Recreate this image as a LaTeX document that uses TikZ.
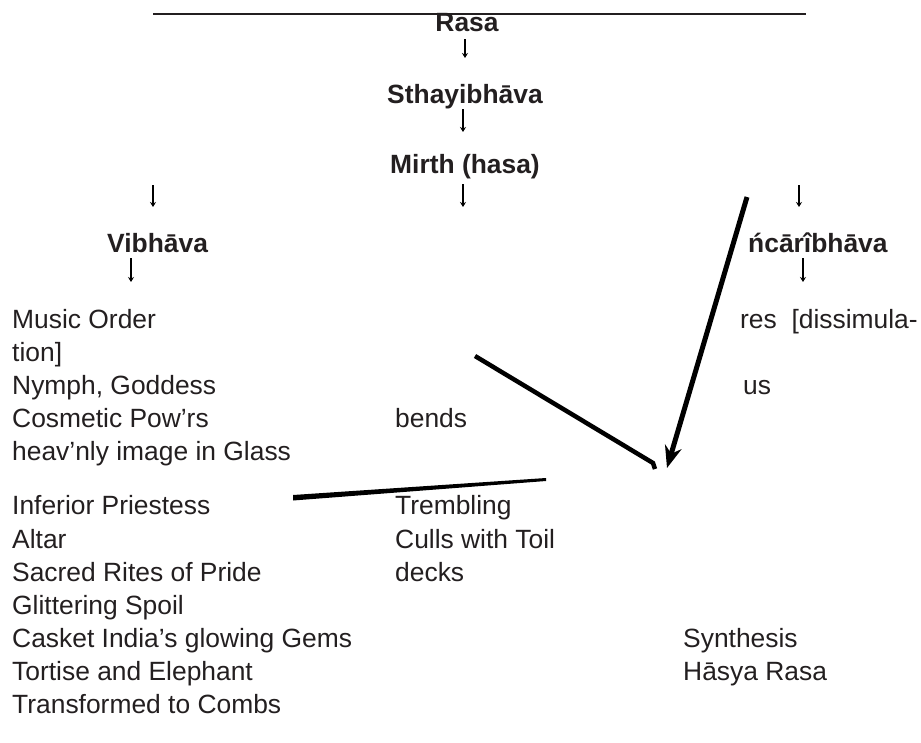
\documentclass[tikz,border=0pt]{standalone}
\usepackage{fontspec}
\setmainfont{Liberation Sans}
\usetikzlibrary{arrows.meta}
\definecolor{ink}{HTML}{231F20}
\tikzset{
  txt/.style={inner sep=0pt, anchor=base west, text=ink, font=\fontsize{26.4}{30}\selectfont},
  ttl/.style={inner sep=0pt, anchor=base, text=ink, font=\fontsize{26.4}{30}\selectfont\bfseries},
  ttlw/.style={ttl, anchor=base west},
  arr/.style={draw=black, line width=1.6pt, -{Stealth[length=5pt,width=6pt]}},
  stroke/.style={draw=black, line width=5pt},
}
\begin{document}
\begin{tikzpicture}[x=1pt,y=-1pt]
\useasboundingbox (0,0) rectangle (921,742);
% titles
\node[ttl] (rasa) at (467,31) {Rasa};
\node[ttl] (sthayi) at (465,103) {Sthayibhāva};
\node[ttl] (mirth) at (465,173) {Mirth (hasa)};
\node[ttlw] (vib) at (107,252) {Vibhāva};
\node[ttlw] (sanc) at (748,252) {ńcārîbhāva};
\draw[ink, line width=1.3pt] (153,14) -- (806,14);
% left column
\node[txt] (l1) at (12,328) {Music Order};
\node[txt] (l2) at (12,361) {tion]};
\node[txt] (l3) at (12,394) {Nymph, Goddess};
\node[txt] (l4) at (12,427) {Cosmetic Pow’rs};
\node[txt] (l5) at (12,460) {heav’nly image in Glass};
\node[txt] (l6) at (12,514) {Inferior Priestess};
\node[txt] (l7) at (12,548) {Altar};
\node[txt] (l8) at (12,581) {Sacred Rites of Pride};
\node[txt] (l9) at (12,614) {Glittering Spoil};
\node[txt] (l10) at (12,647) {Casket India’s glowing Gems};
\node[txt] (l11) at (12,680) {Tortise and Elephant};
\node[txt] (l12) at (12,713) {Transformed to Combs};
% middle column
\node[txt] (m1) at (395,427) {bends};
\node[txt] (m2) at (395,514) {Trembling};
\node[txt] (m3) at (395,548) {Culls with Toil};
\node[txt] (m4) at (395,581) {decks};
% right column
\node[txt] (r1) at (740,328) {res\ \ [dissimula-};
\node[txt] (r2) at (743,394) {us};
\node[txt] (r3) at (683,647) {Synthesis};
\node[txt] (r4) at (683,680) {Hāsya Rasa};
% small arrows
\coordinate (anu) at (463,207);
\draw[arr] ([xshift=-2pt,yshift=-8pt]rasa.base) -- ([yshift=45pt]sthayi.base);
\draw[arr] ([xshift=-2pt,yshift=-6pt]sthayi.base) -- ([xshift=-2pt,yshift=41pt]mirth.base);
\draw[arr] ([xshift=-312pt,yshift=-12pt]mirth.base) -- ([xshift=46pt,yshift=45pt]vib.base west);
\draw[arr] ([xshift=-2pt,yshift=-11pt]mirth.base) -- (anu);
\draw[arr] ([xshift=334pt,yshift=-12pt]mirth.base) -- ([xshift=51pt,yshift=45pt]sanc.base west);
\draw[arr] ([xshift=24pt,yshift=-6pt]vib.base west) -- ([xshift=119pt,yshift=46pt]l1.base west);
\draw[arr] ([xshift=55pt,yshift=-6pt]sanc.base west) -- ([xshift=63pt,yshift=46pt]r1.base west);
% thick annotation strokes
\coordinate (sa1) at (475,356);
\coordinate (sa2) at (653,463);
\coordinate (sa3) at (655,469);
\coordinate (sb1) at (747,197);
\coordinate (sb2) at (667,468);
\draw[stroke, line width=4.5pt] (sa1) -- (sa2) -- (sa3);
\draw[stroke, -{Stealth[length=22pt,width=17pt]}] (sb1) -- (sb2);
\fill[black] (293,495) -- (546,478) -- (546,481) -- (293,500.5) -- cycle;
\end{tikzpicture}
\end{document}
